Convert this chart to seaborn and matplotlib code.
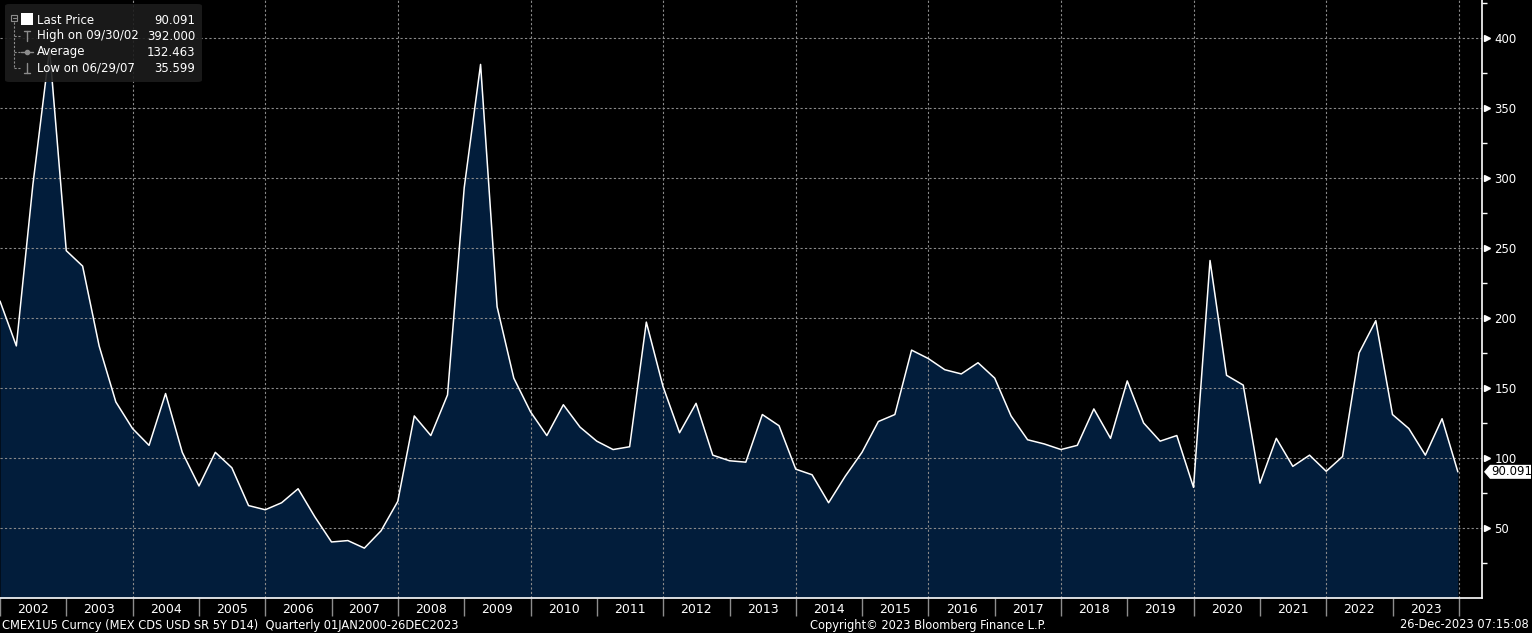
import pandas as pd
import numpy as np
import matplotlib
matplotlib.use("Agg")
import matplotlib.pyplot as plt
import matplotlib.dates as mdates
import matplotlib.transforms as mtransforms
from matplotlib.patches import FancyBboxPatch, Rectangle, Polygon
from matplotlib.lines import Line2D
import seaborn as sns

# ---------------- data: MEX 5Y CDS, quarterly ----------------
dates = list(pd.date_range("2001-12-31", periods=88, freq="QE")) + [pd.Timestamp("2023-12-26")]
values = [
    212,
    180, 295, 392, 248,
    237, 180, 140, 121,
    109, 146, 104, 80,
    104, 93, 66, 63,
    68, 78, 58, 40,
    41, 35.599, 48, 69,
    130, 116, 145, 293,
    381, 208, 157, 133,
    116, 138, 122, 112,
    106, 108, 197, 151,
    118, 139, 102, 98,
    97, 131, 123, 92,
    88, 68, 87, 104,
    126, 131, 177, 171,
    163, 160, 168, 157,
    130, 113, 110, 106,
    109, 135, 114, 155,
    125, 112, 116, 79,
    241, 159, 152, 82,
    114, 94, 102, 90.5,
    101, 175, 198, 131,
    121, 102, 128, 90.091,
]
y_ticks = [50, 100, 150, 200, 250, 300, 350, 400]
grid_years = [2004, 2006, 2008, 2010, 2012, 2014, 2016, 2018, 2020, 2022, 2024]
legend_rows = [("Last Price", "90.091"), ("High on 09/30/02", "392.000"),
               ("Average", "132.463"), ("Low on 06/29/07", "35.599")]
last_label = "90.091"
footer_left = "CMEX1U5 Curncy (MEX CDS USD SR 5Y D14)  Quarterly 01JAN2000-26DEC2023"
footer_mid = "Copyright\u00a9 2023 Bloomberg Finance L.P."
footer_right = "26-Dec-2023 07:15:08"

df = pd.DataFrame({"date": dates, "price": values})

# ---------------- style ----------------
sns.set_theme(style="dark", rc={"figure.facecolor": "black", "axes.facecolor": "black",
                                "savefig.facecolor": "black", "axes.grid": False})
plt.rcParams["font.family"] = ["DejaVu Sans"]

W, H = 1532, 633
fig = plt.figure(figsize=(W / 100, H / 100), dpi=100)
ax = fig.add_axes([0, 35 / H, 1482 / W, 598 / H])

def fx(px):
    return px / W

def fy(py):
    return 1 - py / H

FILL = "#021d3b"
ax.fill_between(df["date"], df["price"], 0, color=FILL, zorder=1, linewidth=0)
sns.lineplot(data=df, x="date", y="price", ax=ax, color="white", linewidth=1.1, zorder=3)

ax.set_xlim(pd.Timestamp("2001-12-31"), pd.Timestamp("2024-05-07"))
ax.set_ylim(0, 427)
ax.set_xlabel("")
ax.set_ylabel("")

# spines
for s in ["top", "left"]:
    ax.spines[s].set_visible(False)
for s in ["bottom", "right"]:
    ax.spines[s].set_visible(True)
    ax.spines[s].set_color("white")
    ax.spines[s].set_linewidth(1.2)

# x axis: separators at year starts, labels mid-year
ax.xaxis.set_major_locator(mdates.YearLocator())
ax.xaxis.set_major_formatter(plt.NullFormatter())
ax.xaxis.set_minor_locator(mdates.MonthLocator(bymonth=7, bymonthday=1))
ax.xaxis.set_minor_formatter(mdates.DateFormatter("%Y"))
ax.tick_params(axis="x", which="major", direction="out", length=13, width=1,
               color="#8c8c8c", bottom=True)
ax.tick_params(axis="x", which="minor", length=0, pad=3.5, labelsize=9,
               labelcolor="white", bottom=True)

# y axis on the right
ax.yaxis.tick_right()
ax.set_yticks(y_ticks)
ax.set_yticks(np.arange(25, 427, 50), minor=True)
ax.tick_params(axis="y", which="major", length=0, pad=9, labelsize=8.5,
               labelcolor="white", right=True, left=False)
ax.tick_params(axis="y", which="minor", direction="out", length=3.5, width=1,
               color="white", right=True, left=False)
trans = mtransforms.blended_transform_factory(ax.transAxes, ax.transData)
ax.plot([1.0035] * len(y_ticks), y_ticks, linestyle="none", marker=">", markersize=5,
        color="white", transform=trans, clip_on=False, zorder=5)

# grid: no automatic grid, dotted lines drawn by hand
ax.grid(False, which="both", axis="both")
ax.tick_params(axis="both", which="both", grid_alpha=0, grid_linewidth=0)
for v in y_ticks:
    ax.axhline(v, color="#8a8a8a", linestyle=(0, (2, 2)), linewidth=0.8, zorder=2)
for yr in grid_years:
    ax.axvline(pd.Timestamp(f"{yr}-01-01"), color="#8a8a8a", linestyle=(0, (2, 2)),
               linewidth=0.8, zorder=2)

# last price tag (white arrow box on the right axis)
tag_y = 633 - (35 + values[-1] / 427 * 598)
tag = Polygon([(fx(1484), fy(tag_y)), (fx(1490), fy(tag_y - 7)), (fx(1531), fy(tag_y - 7)),
               (fx(1531), fy(tag_y + 7)), (fx(1490), fy(tag_y + 7))],
              closed=True, transform=fig.transFigure, fc="white", ec="none", zorder=10)
fig.patches.append(tag)
fig.text(fx(1491), fy(tag_y), last_label, color="black", fontsize=8.5, ha="left",
         va="center", zorder=11)

# ---------------- legend box ----------------
tf = fig.transFigure
fig.patches.append(FancyBboxPatch((fx(5), fy(82)), fx(197), 78 / H,
                                  boxstyle="round,pad=0,rounding_size=0.003",
                                  transform=tf, fc="#1c1c1c", ec="none", alpha=0.9,
                                  zorder=10))
grey = "#8c8c8c"
fig.patches.append(Rectangle((fx(11), fy(21)), 6 / W, 6 / H, transform=tf, fill=False,
                             ec=grey, lw=0.8, zorder=11))
fig.lines.append(Line2D([fx(12.5), fx(15.5)], [fy(18), fy(18)], transform=tf, color=grey,
                        lw=0.8, zorder=11))
fig.patches.append(Rectangle((fx(21), fy(25)), 12 / W, 12 / H, transform=tf, fc="white",
                             ec="none", zorder=11))
fig.lines.append(Line2D([fx(14), fx(14)], [fy(22), fy(68)], transform=tf, color=grey,
                        lw=0.8, linestyle=(0, (2, 1.5)), zorder=11))
for py in (36, 52, 68):
    fig.lines.append(Line2D([fx(14), fx(20)], [fy(py), fy(py)], transform=tf, color=grey,
                            lw=0.8, linestyle=(0, (2, 1.5)), zorder=11))
# high / avg / low icons
fig.lines.append(Line2D([fx(27), fx(27)], [fy(31), fy(41)], transform=tf, color=grey, lw=1, zorder=11))
fig.lines.append(Line2D([fx(24), fx(30)], [fy(31), fy(31)], transform=tf, color=grey, lw=1, zorder=11))
fig.lines.append(Line2D([fx(21), fx(33)], [fy(52), fy(52)], transform=tf, color=grey, lw=1, zorder=11))
fig.lines.append(Line2D([fx(27)], [fy(52)], transform=tf, color=grey, marker="o",
                        markersize=3, zorder=11))
fig.lines.append(Line2D([fx(27), fx(27)], [fy(63), fy(73)], transform=tf, color=grey, lw=1, zorder=11))
fig.lines.append(Line2D([fx(24), fx(30)], [fy(73), fy(73)], transform=tf, color=grey, lw=1, zorder=11))

for i, (lab, val) in enumerate(legend_rows):
    py = 20 + i * 16
    fig.text(fx(37), fy(py), lab, color="white", fontsize=8.5, ha="left", va="center", zorder=12)
    fig.text(fx(195), fy(py), val, color="white", fontsize=8.5, ha="right", va="center", zorder=12)

# ---------------- footer ----------------
foot = dict(color="white", fontsize=9.2, va="center", family="DejaVu Sans", stretch="condensed")
fig.text(fx(2), fy(625), footer_left, ha="left", **foot)
fig.text(fx(928), fy(625), footer_mid, ha="center", **foot)
fig.text(fx(1529), fy(625), footer_right, ha="right", **foot)

fig.savefig("out.png", dpi=100, facecolor="black")
